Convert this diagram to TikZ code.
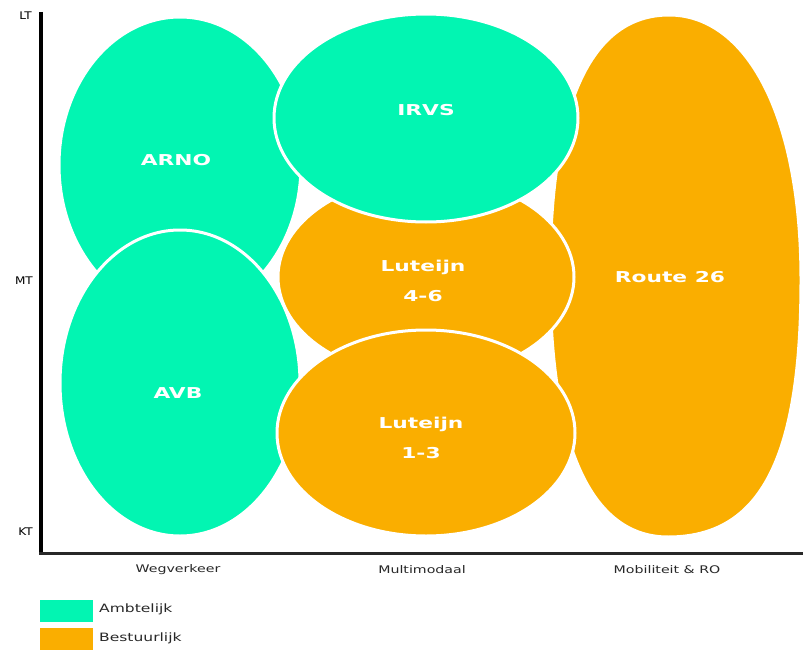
\documentclass[tikz,border=0pt]{standalone}
\usepackage{fontspec}
\newfontfamily\blab{DejaVu Sans}[FakeStretch=1.45]
\newfontfamily\slab{DejaVu Sans}[FakeStretch=1.35]
\newfontfamily\tlab{DejaVu Sans}[FakeStretch=1.15]
\definecolor{amb}{RGB}{2,245,178}
\definecolor{bes}{RGB}{250,174,0}
\definecolor{axgray}{RGB}{40,40,40}
\begin{document}
\begin{tikzpicture}[x=1pt,y=-1pt,
  blob/.style={draw=white, line width=3pt},
  lbl/.style={font=\blab\bfseries\fontsize{15}{30}\selectfont, text=white, align=center, inner sep=0pt},
  axlbl/.style={font=\slab\fontsize{10.5}{12}\selectfont, text=axgray, inner sep=0pt},
  ticklbl/.style={font=\tlab\fontsize{10.5}{12}\selectfont, text=black, inner sep=0pt, anchor=east},
  legbox/.style={minimum width=53pt, minimum height=22pt, inner sep=0pt, draw=none},
  leglbl/.style={font=\slab\fontsize{11.5}{13}\selectfont, text=axgray, inner sep=0pt, anchor=west}]
\useasboundingbox (0,0) rectangle (803,650);
\fill[white] (0,0) rectangle (803,650);

% Route 26 (bottom layer)
\path[blob, fill=bes] (669,15) .. controls (745,15) and (801,112) .. (801,280)
  .. controls (801,460) and (760,537) .. (668,537)
  .. controls (591,537) and (550,446) .. (550,276)
  .. controls (550,106) and (590,15) .. (669,15) -- cycle;
% ARNO
\path[blob, fill=amb] (180,165) ellipse [x radius=121, y radius=148];
% AVB
\path[blob, fill=amb] (180,383) ellipse [x radius=120, y radius=153];
% Luteijn 4-6
\path[blob, fill=bes] (426,277) ellipse [x radius=148, y radius=100];
% IRVS
\path[blob, fill=amb] (426,118) ellipse [x radius=152, y radius=104];
% Luteijn 1-3
\path[blob, fill=bes] (426,433) ellipse [x radius=149, y radius=103];

% labels
\node[lbl] (arno) at (176,160) {ARNO};
\node[lbl] (avb) at (178,393) {AVB};
\node[lbl] (irvs) at (426,110) {IRVS};
\node[lbl] (lut46) at (423,281) {Luteijn\\4-6};
\node[lbl] (lut13) at (421,438) {Luteijn\\1-3};
\node[lbl] (route) at (670,277) {Route 26};

% axes
\coordinate (ytop) at (41.3,12);
\coordinate (origin) at (41.3,553);
\coordinate (xend) at (803,553);
\draw[line width=4pt, black] (ytop) -- (origin);
\draw[line width=3pt, axgray] (39.3,553) -- (xend);

\node[ticklbl] (lt) at (32,16) {LT};
\node[ticklbl] (mt) at (33,281) {MT};
\node[ticklbl] (kt) at (33,532) {KT};

\node[axlbl] (weg) at (178,570) {Wegverkeer};
\node[axlbl] (multi) at (422,570) {Multimodaal};
\node[axlbl] (mob) at (667,570) {Mobiliteit \& RO};

% legend
\node[legbox, fill=amb] (legamb) at (66.5,611) {};
\node[legbox, fill=bes] (legbes) at (66.5,638.5) {};
\node[leglbl] (ambt) at (99,609) {Ambtelijk};
\node[leglbl] (best) at (99,638) {Bestuurlijk};
\end{tikzpicture}
\end{document}
